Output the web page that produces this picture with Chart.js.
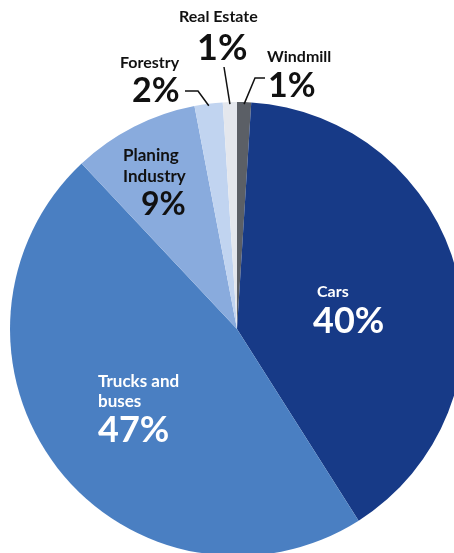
<!DOCTYPE html>
<html>
<head>
<meta charset="utf-8">
<script src="https://cdn.jsdelivr.net/npm/chart.js@4/dist/chart.umd.min.js"></script>
<style>
  html, body { margin: 0; padding: 0; background: #ffffff; overflow: hidden; width: 454px; height: 553px; }
  #c { position: absolute; left: 0; top: 0; }
</style>
</head>
<body>
<canvas id="c" width="474" height="556" style="width:474px;height:556px"></canvas>
<script>
// ---- data ----
const categories = ["Windmill", "Cars", "Trucks and buses", "Planing Industry", "Forestry", "Real Estate"];
const shares = [1, 40, 47, 9, 2, 1];
const sliceColors = ["#5b5f66", "#173a87", "#4a7fc2", "#89abdd", "#c1d4f0", "#e4e7ed"];
const labelLines = [["Windmill"], ["Cars"], ["Trucks and", "buses"], ["Planing", "Industry"], ["Forestry"], ["Real Estate"]];
const percentLabels = ["1%", "40%", "47%", "9%", "2%", "1%"];

// ---- label layout (text placement only) ----
const labelLayout = [
  { x: 267, nameBase: 62, lineH: 20, nameSize: 16, pctBase: 97, pctX: 268, pctSize: 34, color: "#111111", leader: [[265, 78], [255, 78]] },
  { x: 317, nameBase: 297, lineH: 20, nameSize: 16, pctBase: 333, pctX: 313, pctSize: 36, color: "#ffffff" },
  { x: 98, nameBase: 387, lineH: 20, nameSize: 17, pctBase: 442, pctX: 98, pctSize: 36, color: "#ffffff" },
  { x: 123, nameBase: 161, lineH: 21, nameSize: 17, pctBase: 215, pctX: 141, pctSize: 32, color: "#111111" },
  { x: 120, nameBase: 68, lineH: 20, nameSize: 16, pctBase: 102, pctX: 132, pctSize: 34, color: "#111111", leader: [[185, 91], [198, 91]] },
  { x: 179, nameBase: 22, lineH: 20, nameSize: 16, pctBase: 60, pctX: 197, pctSize: 36, color: "#111111", leader: [[224, 67]] }
];

const labelPlugin = {
  id: "sliceLabels",
  afterDatasetsDraw(chart) {
    const ctx = chart.ctx;
    const meta = chart.getDatasetMeta(0);
    ctx.save();
    ctx.textAlign = "left";
    ctx.textBaseline = "alphabetic";
    meta.data.forEach((arc, i) => {
      const L = labelLayout[i];
      if (!L) return;
      // leader line to slice edge
      if (L.leader) {
        const mid = (arc.startAngle + arc.endAngle) / 2;
        const r = arc.outerRadius - 2;
        const ex = arc.x + Math.cos(mid) * r;
        const ey = arc.y + Math.sin(mid) * r;
        ctx.beginPath();
        ctx.strokeStyle = "#111111";
        ctx.lineWidth = 1.5;
        ctx.moveTo(L.leader[0][0], L.leader[0][1]);
        for (let k = 1; k < L.leader.length; k++) ctx.lineTo(L.leader[k][0], L.leader[k][1]);
        ctx.lineTo(ex, ey);
        ctx.stroke();
      }
      ctx.fillStyle = L.color;
      ctx.font = "bold " + L.nameSize + "px Lato, 'Open Sans', sans-serif";
      labelLines[i].forEach((t, j) => ctx.fillText(t, L.x, L.nameBase + j * L.lineH));
      ctx.font = "bold " + L.pctSize + "px Lato, 'Open Sans', sans-serif";
      ctx.fillText(percentLabels[i], L.pctX, L.pctBase);
    });
    ctx.restore();
  }
};

new Chart(document.getElementById("c"), {
  type: "pie",
  data: {
    labels: categories,
    datasets: [{
      data: shares,
      backgroundColor: sliceColors,
      borderWidth: 0,
      hoverOffset: 0
    }]
  },
  options: {
    responsive: false,
    devicePixelRatio: 1,
    animation: false,
    rotation: 0,
    layout: { padding: { top: 102, left: 10, right: 10, bottom: 0 } },
    plugins: { legend: { display: false }, tooltip: { enabled: false } },
    events: []
  },
  plugins: [labelPlugin]
});
</script>
</body>
</html>
